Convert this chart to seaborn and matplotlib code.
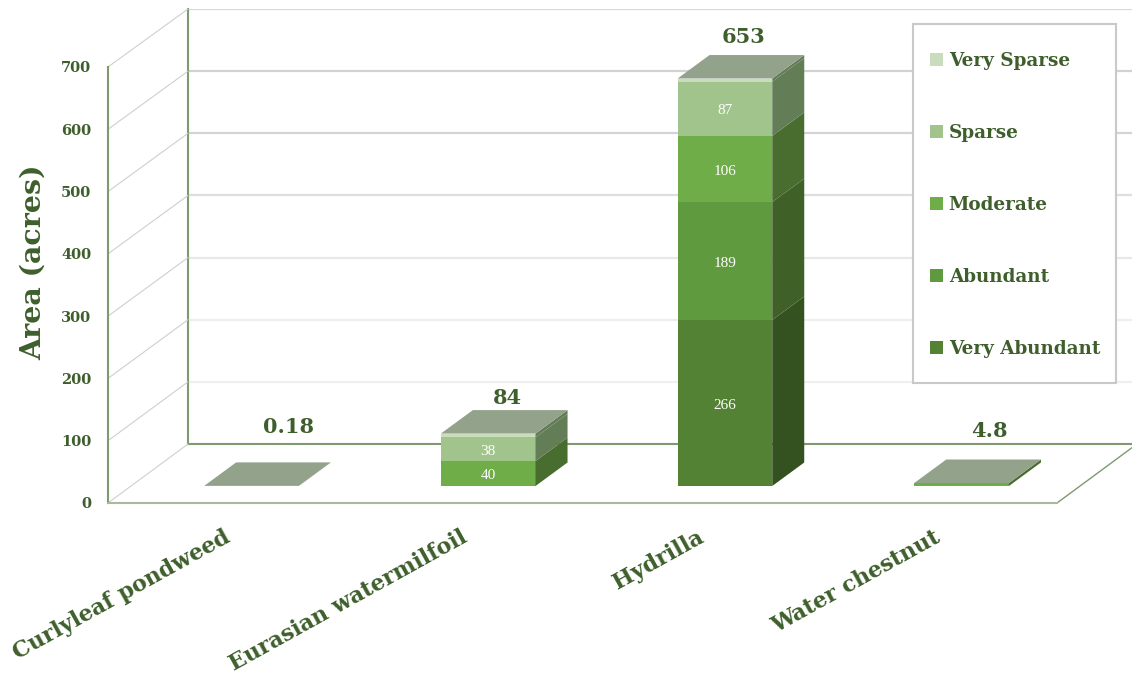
import numpy as np
import pandas as pd
import seaborn as sns
import matplotlib.pyplot as plt
from matplotlib.patches import Polygon, Rectangle, ConnectionPatch
from matplotlib.transforms import ScaledTranslation

species = ["Curlyleaf pondweed", "Eurasian watermilfoil", "Hydrilla", "Water chestnut"]
density = ["Very Abundant", "Abundant", "Moderate", "Sparse", "Very Sparse"]

very_abundant = [0, 0, 266, 0]
abundant = [0, 0, 189, 0]
moderate = [0, 40, 106, 4.8]
sparse = [0.18, 38, 87, 0]
very_sparse = [0, 6, 5, 0]
totals = ["0.18", "84", "653", "4.8"]
yticks = [0, 100, 200, 300, 400, 500, 600, 700]

front_colors = ["#548235", "#609a3f", "#6ead47", "#a0c48c", "#c9dcbc"]
side_colors = ["#345220", "#3f6127", "#486d2e", "#637d56", "#637d56"]
top_color = "#93a38b"
text_color = "#3e5f2c"
line_color = "#7f9a6f"
grid_colors = ["#efefef", "#efefef", "#eeeeee", "#e8e8e8", "#dedede", "#d4d4d4", "#d2d2d2", "#d8d8d8"]

W, H = 1132, 674
PX_X = 236.7      # pixels per category
PX_Y = 0.624      # pixels per acre
X0 = 251.5        # pixel of first category
Y0 = 486          # pixel of the bar base
DX = 32 / PX_X    # bar depth in data units
DY = 23.5 / PX_Y
# nudges of the total labels, pixels from top back of the bar
total_dx = [37, 19, 19, 28]
total_dy = [35, 12, 18, 29]

sns.set_style("white")
plt.rcParams["font.family"] = ["DejaVu Serif"]
plt.rcParams["font.weight"] = "bold"


def box(left, top, right, bottom):
    return [left / W, 1 - bottom / H, (right - left) / W, (bottom - top) / H]


fig = plt.figure(figsize=(W / 100, H / 100), dpi=100)

# back wall
ax_back = fig.add_axes(box(188, 9, 1137, 444), zorder=0)
ax_back.set_ylim(0, 700)
ax_back.set_xlim(0, 1)
ax_back.set_yticks(yticks)
ax_back.set_xticks([])
ax_back.tick_params(left=False, labelleft=False)
ax_back.grid(axis="y", lw=1.6)
for gl, c in zip(ax_back.get_ygridlines(), grid_colors):
    gl.set_color(c)
for s in ["top", "right"]:
    ax_back.spines[s].set_visible(False)
for s in ["left", "bottom"]:
    ax_back.spines[s].set_color(line_color)
    ax_back.spines[s].set_linewidth(1.5)

# front plane, holds the tick labels
ax_front = fig.add_axes(box(108, 67, 1057, 503), zorder=1)
ax_front.patch.set_alpha(0)
ax_front.set_ylim(0, 700)
ax_front.set_xlim((108 - X0) / PX_X, (1057 - X0) / PX_X)
ax_front.set_yticks(yticks)
ax_front.set_yticklabels(yticks, fontsize=10.5, color=text_color)
ax_front.set_xticks(range(len(species)))
ax_front.set_xticklabels(species, fontsize=15.9, color=text_color, rotation=29,
                         ha="right", va="top", rotation_mode="anchor")
ax_front.tick_params(length=0, axis="y", pad=12)
ax_front.tick_params(length=0, axis="x", pad=0)
shift = ScaledTranslation(-28 / 100, -23 / 100, fig.dpi_scale_trans)
for lab in ax_front.get_xticklabels():
    lab.set_transform(lab.get_transform() + shift)
ax_front.set_ylabel("Area (acres)", fontsize=20.5, fontweight="bold", color=text_color,
                    labelpad=10, y=0.553)
for s in ["top", "right"]:
    ax_front.spines[s].set_visible(False)
ax_front.spines["left"].set_color(line_color)
ax_front.spines["left"].set_linewidth(1.5)
ax_front.spines["bottom"].set_color("#a9b9a0")
ax_front.spines["bottom"].set_linewidth(1.5)

# side wall and floor edges
for v in yticks:
    fig.add_artist(ConnectionPatch((0, v), (0, v), coordsA=ax_front.get_yaxis_transform(),
                                   coordsB=ax_back.get_yaxis_transform(), color="#cfcfcf", lw=0.8))
fig.add_artist(ConnectionPatch((1, 0), (1, 0), coordsA=ax_front.transAxes,
                               coordsB=ax_back.transAxes, color="#7f9a6f", lw=1))

# bars, full figure axes so depth offsets stay simple
ax = fig.add_axes([0, 0, 1, 1], zorder=2)
ax.patch.set_alpha(0)
df = pd.DataFrame({"species": species, "Very Abundant": very_abundant, "Abundant": abundant,
                   "Moderate": moderate, "Sparse": sparse, "Very Sparse": very_sparse})
bottoms = np.zeros(len(species))
for name, c in zip(density, front_colors):
    sns.barplot(data=df, x="species", y=name, color=c, saturation=1, width=0.4, bottom=bottoms,
                errorbar=None, label=name, ax=ax, zorder=3, linewidth=0)
    bottoms = bottoms + df[name].values
ax.set_xlim(-X0 / PX_X, (W - X0) / PX_X)
ax.set_ylim(-(H - Y0) / PX_Y, Y0 / PX_Y)
ax.axis("off")

# depth of every segment and the lid
for cont, c in zip(ax.containers, side_colors):
    for r in cont:
        x, y, w, h = r.get_x(), r.get_y(), r.get_width(), r.get_height()
        if h > 0:
            ax.add_patch(Polygon([(x + w, y), (x + w + DX, y + DY), (x + w + DX, y + h + DY), (x + w, y + h)],
                                 fc=c, lw=0, zorder=3))
    labs = [f"{v:g}" if v >= 20 else "" for v in cont.datavalues]
    texts = ax.bar_label(cont, labels=labs, label_type="center", color="white", fontsize=11,
                         family="Liberation Serif", fontweight="normal", zorder=5)
    for t in texts:
        t.xyann = (0, -1.5)

width = ax.containers[0][0].get_width()
for i, t in enumerate(bottoms):
    x = i - width / 2
    ax.add_patch(Polygon([(x, t), (x + width, t), (x + width + DX, t + DY), (x + DX, t + DY)],
                         fc=top_color, lw=0, zorder=4))
    ax.annotate(totals[i], (i, t + DY), xytext=(total_dx[i] * 0.72, total_dy[i] * 0.72),
                textcoords="offset points", ha="center", va="center",
                fontsize=15, color=text_color, zorder=5)

# legend
ax.add_patch(Rectangle((913 / W, 1 - 383 / H), 203 / W, 359 / H, transform=fig.transFigure,
                       fc="white", ec="#c9c9c9", lw=1.5, zorder=9))
hs, ls = ax.get_legend_handles_labels()
leg = ax.legend(hs[::-1], ls[::-1], loc="upper left", bbox_to_anchor=(930 / W, 1 - 52 / H),
                bbox_transform=fig.transFigure, frameon=False, fontsize=13.2, labelcolor=text_color,
                handlelength=0.72, handleheight=0.72, handletextpad=0.3, labelspacing=2.95,
                borderpad=0, borderaxespad=0)
leg.set_zorder(10)

fig.savefig("out.png", dpi=100)
